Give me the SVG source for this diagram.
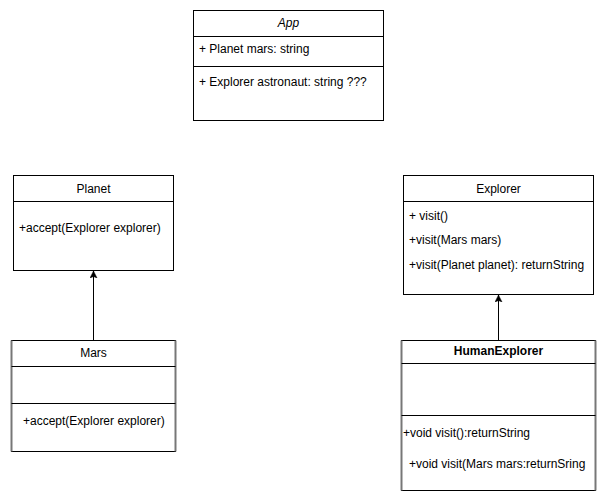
<svg xmlns="http://www.w3.org/2000/svg" width="608" height="501" viewBox="0 0 608 501">
<style>
.box{fill:#fff;stroke:#000;stroke-width:1}
.div{stroke:#000;stroke-width:1}
.side{stroke:#777;stroke-width:2}
text{font-family:"Liberation Sans",Arial,sans-serif;font-size:12px;fill:#000}
.c{text-anchor:middle}
.conn{stroke:#000;stroke-width:1;fill:none}
</style>
<defs>
<marker id="arr" markerWidth="8" markerHeight="8" refX="7" refY="4" orient="auto" markerUnits="userSpaceOnUse">
<path d="M0,0.5 L7,4 L0,7.5 L1.5,4 Z" fill="#000" stroke="#000" stroke-width="0.5"/>
</marker>
</defs>
<rect width="608" height="501" fill="#fff"/>
<g id="App">
<rect class="box" x="193.5" y="10.5" width="190" height="110"/>
<line class="div" x1="193.5" y1="36.5" x2="383.5" y2="36.5"/>
<line class="div" x1="193.5" y1="66.5" x2="383.5" y2="66.5"/>
<text class="c" x="288.5" y="27" font-style="italic">App</text>
<text x="199" y="53">+ Planet mars: string</text>
<text x="199" y="86">+ Explorer astronaut: string ???</text>
</g>
<g id="Planet">
<rect class="box" x="13.5" y="175.5" width="160" height="95"/>
<line class="div" x1="13.5" y1="201.5" x2="173.5" y2="201.5"/>
<text class="c" x="93.5" y="193">Planet</text>
<text x="19" y="232">+accept(Explorer explorer)</text>
</g>
<g id="Mars">
<rect class="box" x="11.5" y="340.5" width="164" height="111"/>
<line class="side" x1="11.5" y1="340.5" x2="11.5" y2="451.5"/>
<line class="side" x1="175.5" y1="340.5" x2="175.5" y2="451.5"/>
<line class="div" x1="11.5" y1="366.5" x2="175.5" y2="366.5"/>
<line class="div" x1="11.5" y1="403.5" x2="175.5" y2="403.5"/>
<text class="c" x="93.5" y="357">Mars</text>
<text x="23" y="425">+accept(Explorer explorer)</text>
</g>
<g id="Explorer">
<rect class="box" x="403.5" y="175.5" width="190" height="119"/>
<line class="div" x1="403.5" y1="201.5" x2="593.5" y2="201.5"/>
<text class="c" x="498.5" y="193">Explorer</text>
<text x="409" y="220">+ visit()</text>
<text x="409" y="244">+visit(Mars mars)</text>
<text x="409" y="269">+visit(Planet planet): returnString</text>
</g>
<g id="HumanExplorer">
<rect class="box" x="401.5" y="340.5" width="194" height="150"/>
<line class="side" x1="401.5" y1="340.5" x2="401.5" y2="490.5"/>
<line class="side" x1="595.5" y1="340.5" x2="595.5" y2="490.5"/>
<line class="div" x1="401.5" y1="363.5" x2="595.5" y2="363.5"/>
<line class="div" x1="401.5" y1="415.5" x2="595.5" y2="415.5"/>
<text class="c" x="498.5" y="355" font-weight="bold">HumanExplorer</text>
<text x="403" y="437">+void visit():returnString</text>
<text x="409" y="468">+void visit(Mars mars:returnSring</text>
</g>
<g id="connectors">
<line class="conn" x1="93.5" y1="340" x2="93.5" y2="271" marker-end="url(#arr)"/>
<line class="conn" x1="498.5" y1="340" x2="498.5" y2="295" marker-end="url(#arr)"/>
</g>
</svg>
